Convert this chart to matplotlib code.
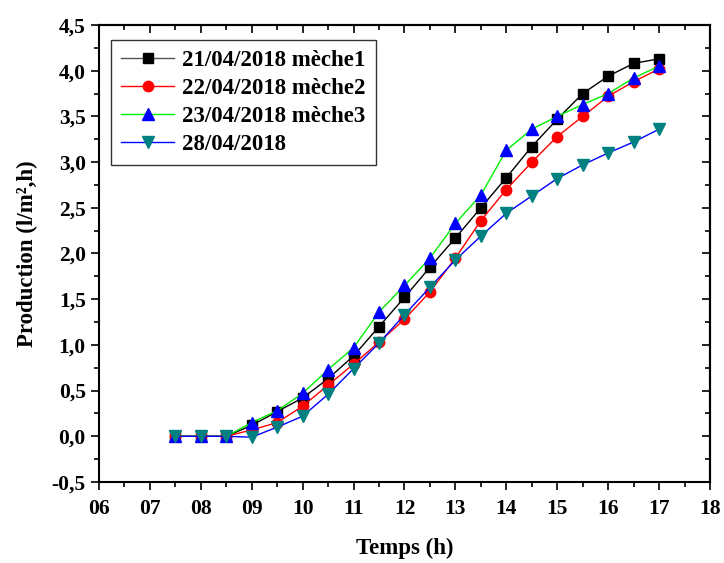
import matplotlib.pyplot as plt
from matplotlib.ticker import MultipleLocator, FuncFormatter

# Données
temps = [7.5, 8, 8.5, 9, 9.5, 10, 10.5, 11, 11.5, 12, 12.5, 13, 13.5, 14, 14.5, 15, 15.5, 16, 16.5, 17]
meche1 = [0, 0, 0, 0.12, 0.27, 0.42, 0.63, 0.88, 1.20, 1.52, 1.85, 2.17, 2.50, 2.83, 3.17, 3.47, 3.75, 3.94, 4.08, 4.13]
meche2 = [0, 0, 0, 0.07, 0.15, 0.33, 0.56, 0.79, 1.03, 1.28, 1.58, 1.95, 2.36, 2.70, 3.00, 3.28, 3.50, 3.72, 3.88, 4.02]
meche3 = [0, 0, 0, 0.15, 0.28, 0.47, 0.73, 0.97, 1.36, 1.65, 1.95, 2.33, 2.64, 3.13, 3.36, 3.50, 3.63, 3.75, 3.92, 4.05]
date4 = [0, 0, 0, -0.01, 0.10, 0.22, 0.46, 0.74, 1.02, 1.33, 1.63, 1.93, 2.19, 2.44, 2.63, 2.82, 2.97, 3.10, 3.22, 3.36]
etiquettes = ["21/04/2018 mèche1", "22/04/2018 mèche2", "23/04/2018 mèche3", "28/04/2018"]

plt.rcParams['font.family'] = ['Liberation Serif', 'DejaVu Serif']
plt.rcParams['font.weight'] = 'bold'

fig = plt.figure(figsize=(7.24, 5.63), dpi=100)
ax = fig.add_axes([0.1367, 0.1439, 0.8440, 0.8117])

ms = 7.5
ax.plot(temps, meche1, '-s', color='black', mfc='black', mec='black', lw=1, ms=ms, label=etiquettes[0])
ax.plot(temps, meche2, '-o', color='red', mfc='red', mec='red', lw=1, ms=ms, label=etiquettes[1])
ax.plot(temps, meche3, '-^', color='#00ee00', mfc='blue', mec='blue', lw=1, ms=ms + 0.5, label=etiquettes[2])
ax.plot(temps, date4, '-v', color='blue', mfc='#008080', mec='#008080', lw=1, ms=ms + 0.5, label=etiquettes[3])

ax.set_xlim(6, 18)
ax.set_ylim(-0.5, 4.5)
ax.xaxis.set_major_locator(MultipleLocator(1))
ax.xaxis.set_minor_locator(MultipleLocator(0.5))
ax.yaxis.set_major_locator(MultipleLocator(0.5))
ax.yaxis.set_minor_locator(MultipleLocator(0.25))
ax.xaxis.set_major_formatter(FuncFormatter(lambda v, p: "%02d" % int(round(v))))
ax.yaxis.set_major_formatter(FuncFormatter(lambda v, p: ("%.1f" % v).replace('.', ',')))

ax.tick_params(which='both', direction='out', width=1.2, labelsize=15.5)
ax.tick_params(which='major', length=6)
ax.tick_params(which='minor', length=3.5)
ax.tick_params(axis='x', which='major', pad=6)
for lab in ax.get_xticklabels() + ax.get_yticklabels():
    lab.set_fontweight('bold')

# axes du haut et de droite : graduations vers l'intérieur, sans étiquettes
axt = ax.secondary_xaxis('top')
axt.xaxis.set_major_locator(MultipleLocator(1))
axt.xaxis.set_minor_locator(MultipleLocator(0.5))
axt.tick_params(which='both', direction='in', width=1.2, labeltop=False)
axt.tick_params(which='major', length=6)
axt.tick_params(which='minor', length=3.5)
axr = ax.secondary_yaxis('right')
axr.yaxis.set_major_locator(MultipleLocator(0.5))
axr.yaxis.set_minor_locator(MultipleLocator(0.25))
axr.tick_params(which='both', direction='in', width=1.2, labelright=False)
axr.tick_params(which='major', length=6)
axr.tick_params(which='minor', length=3.5)
for sp in ax.spines.values():
    sp.set_linewidth(1.5)
axt.spines['top'].set_linewidth(1.5)
axr.spines['right'].set_linewidth(1.5)

ax.set_xlabel("Temps (h)", fontsize=16.5, fontweight='bold', labelpad=14)
ax.set_ylabel("Production (l/m²,h)", fontsize=16.5, fontweight='bold', labelpad=10)

leg = ax.legend(loc='upper left', bbox_to_anchor=(0.012, 0.978), fontsize=16.5, frameon=True,
                fancybox=False, edgecolor='black', handlelength=2.3, borderpad=0.45,
                labelspacing=0.3, handletextpad=0.35, borderaxespad=0.2)
leg.get_frame().set_linewidth(1.0)
leg.legend_handles[0].set_color('#555555')
leg.legend_handles[0].set_markerfacecolor('black')
leg.legend_handles[0].set_markeredgecolor('black')

fig.savefig("out.png", dpi=100)
